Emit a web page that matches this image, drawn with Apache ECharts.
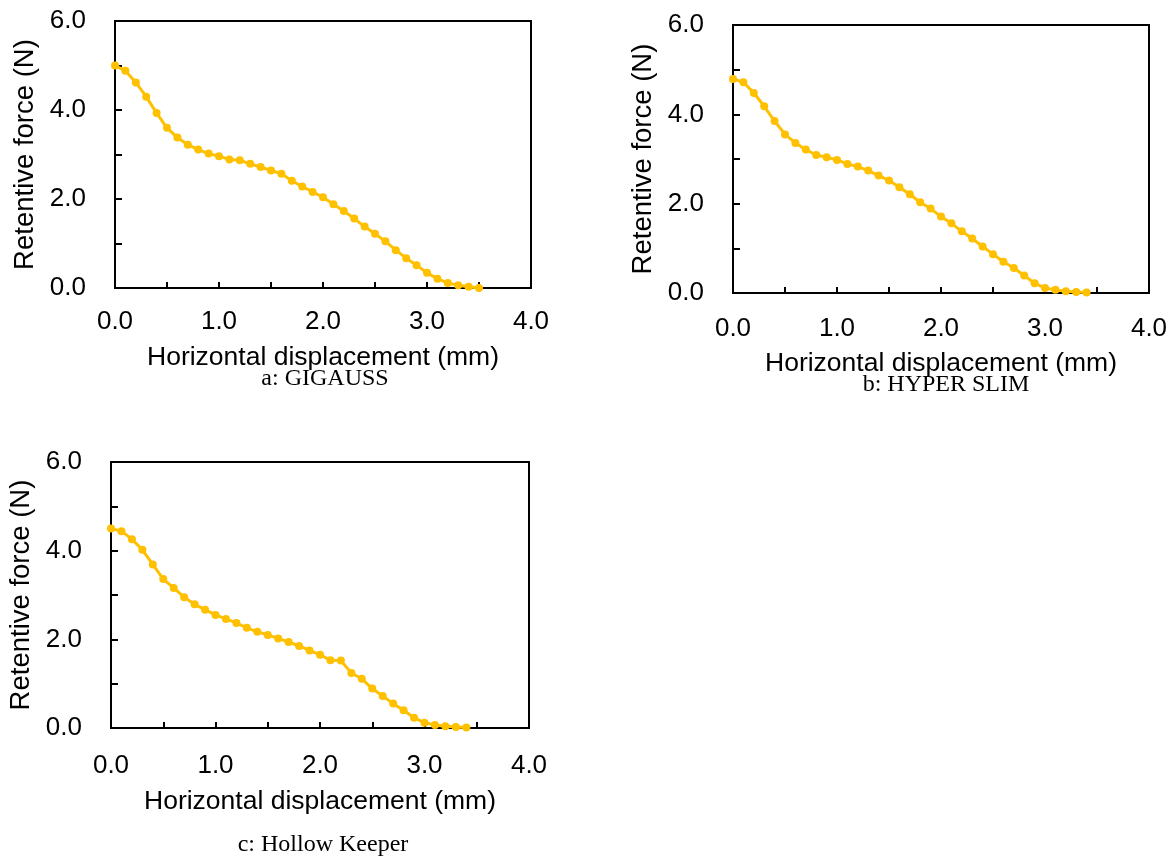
<!DOCTYPE html>
<html><head><meta charset="utf-8">
<script src="https://cdn.jsdelivr.net/npm/echarts@6/dist/echarts.min.js"></script>
<style>html,body{margin:0;padding:0;background:#fff}#c{width:1174px;height:859px}</style>
</head><body><div id="c"></div>
<script>
const xStep = 0.1;
const gigauss = [5.00,4.88,4.62,4.30,3.93,3.60,3.38,3.22,3.11,3.02,2.96,2.89,2.87,2.79,2.72,2.64,2.57,2.41,2.28,2.16,2.04,1.88,1.73,1.56,1.38,1.22,1.05,0.85,0.67,0.51,0.34,0.21,0.11,0.06,0.03,0.00];
const hyperSlim = [4.79,4.72,4.48,4.18,3.85,3.55,3.36,3.21,3.09,3.04,2.98,2.89,2.83,2.74,2.63,2.52,2.37,2.21,2.03,1.89,1.71,1.56,1.38,1.22,1.04,0.87,0.70,0.56,0.39,0.22,0.11,0.07,0.04,0.02,0.01];
const hollowKeeper = [4.50,4.44,4.26,4.02,3.69,3.36,3.16,2.95,2.79,2.67,2.55,2.46,2.37,2.26,2.17,2.10,2.02,1.94,1.85,1.75,1.65,1.53,1.52,1.24,1.11,0.89,0.72,0.55,0.40,0.23,0.12,0.07,0.04,0.02,0.01];
const captions = ['a: GIGAUSS','b: HYPER SLIM','c: Hollow Keeper'];
const xTitle = 'Horizontal displacement (mm)';
const yTitle = 'Retentive force (N)';

function pairs(arr){ return arr.map((v,i)=>[+(i*xStep).toFixed(1), v]); }
const seriesData = [gigauss, hyperSlim, hollowKeeper];

const grids = [
  {left:115, top:21, width:416, height:267, lm:21, ng:56},
  {left:733, top:25, width:416, height:268, lm:23, ng:57},
  {left:111, top:462, width:418, height:266, lm:25, ng:60}
];
const FONT = '"Liberation Sans", Arial, sans-serif';
const opt = {
  animation:false,
  backgroundColor:'#fff',
  grid: grids.map(g=>({show:true, borderColor:'#000', borderWidth:2, backgroundColor:'transparent',
    left:g.left, top:g.top, width:g.width, height:g.height})),
  xAxis: grids.map((g,i)=>({
    type:'value', gridIndex:i, min:0, max:4, interval:0.5,
    axisLine:{show:true, onZero:false, lineStyle:{color:'#000', width:2}},
    axisTick:{show:true, inside:true, length:6, lineStyle:{color:'#000', width:2}},
    splitLine:{show:false},
    axisLabel:{color:'#000', fontSize:26, fontFamily:FONT, margin:g.lm,
      formatter:v=> (Math.abs(v-Math.round(v))<1e-9 ? v.toFixed(1) : '')},
    name:xTitle, nameLocation:'middle', nameGap:g.ng,
    nameTextStyle:{color:'#000', fontSize:26.5, fontFamily:FONT}
  })),
  yAxis: grids.map((g,i)=>({
    type:'value', gridIndex:i, min:0, max:6, interval:1,
    axisLine:{show:true, onZero:false, lineStyle:{color:'#000', width:2}},
    axisTick:{show:true, inside:true, length:7, lineStyle:{color:'#000', width:2}},
    splitLine:{show:false},
    axisLabel:{color:'#000', fontSize:26, fontFamily:FONT, margin:29,
      formatter:v=> (Math.round(v)%2===0 ? v.toFixed(1) : '')},
    name:yTitle, nameLocation:'middle', nameGap:76, nameRotate:90,
    nameTextStyle:{color:'#000', fontSize:27.5, fontFamily:FONT}
  })),
  title: [
    {text:captions[0], left:320, top:362},
    {text:captions[1], left:941, top:368},
    {text:captions[2], left:318, top:828}
  ].map(t=>({text:t.text, left:t.left, top:t.top, textAlign:'center',
      textStyle:{color:'#000', fontSize:24, fontWeight:'normal', fontFamily:'"Liberation Serif","Times New Roman",serif'}})),
  series: seriesData.map((d,i)=>({
    type:'line', xAxisIndex:i, yAxisIndex:i, data:pairs(d),
    symbol:'circle', symbolSize:8, smooth:false,
    lineStyle:{color:'#FFC000', width:3},
    itemStyle:{color:'#FFC000'}
  }))
};
const chart = echarts.init(document.getElementById('c'), null, {renderer:'canvas'});
chart.setOption(opt);
</script></body></html>
